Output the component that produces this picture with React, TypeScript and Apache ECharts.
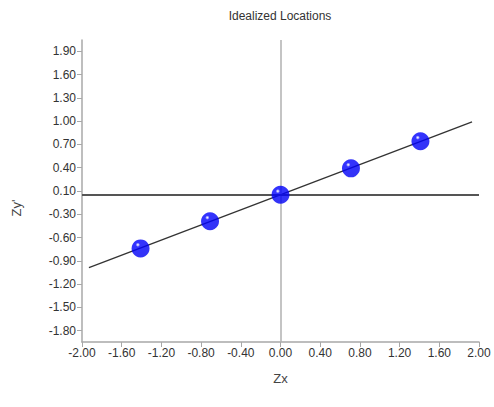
import React, { useEffect, useRef } from "react";
import * as echarts from "echarts";

const titleText = "Idealized Locations";
const xName = "Zx";
const yName = "Zy'";

const pointsX = [-1.41, -0.71, 0, 0.71, 1.41];
const pointsY = [-0.71, -0.35, 0, 0.35, 0.71];

const lineX = [-1.93, 1.93];
const lineY = [-0.965, 0.965];

const yTickValues = [-1.8, -1.4917, -1.1833, -0.875, -0.5667, -0.2583, 0.05, 0.3583, 0.6667, 0.975, 1.2833, 1.5917, 1.9];
const yTickLabels = ["-1.80", "-1.50", "-1.20", "-0.90", "-0.60", "-0.30", "0.10", "0.40", "0.70", "1.00", "1.30", "1.60", "1.90"];

const FONT = "Liberation Sans, Arial, sans-serif";

export default function App() {
  const ref = useRef<HTMLDivElement>(null);
  useEffect(() => {
    if (!ref.current) return;
    const chart = echarts.init(ref.current, undefined, { renderer: "svg" });
    const axisGrey = "#a8a8a8";
    chart.setOption({
      animation: false,
      backgroundColor: "#ffffff",
      textStyle: { fontFamily: FONT },
      grid: { left: 82, right: 15, top: 40, bottom: 65, containLabel: false },
      xAxis: {
        type: "value",
        min: -2,
        max: 2,
        interval: 0.4,
        name: xName,
        nameLocation: "middle",
        nameGap: 30,
        nameTextStyle: { fontSize: 13, color: "#444", fontFamily: FONT },
        axisLine: { show: true, onZero: false, lineStyle: { color: axisGrey, width: 1.5 } },
        axisTick: { show: true, length: 5, lineStyle: { color: axisGrey } },
        axisLabel: {
          fontSize: 12,
          color: "#333",
          margin: 5,
          fontFamily: FONT,
          formatter: (v: number) => v.toFixed(2),
        },
        splitLine: { show: false },
      },
      yAxis: {
        type: "value",
        min: -1.95,
        max: 2.05,
        axisLine: { show: true, onZero: false, lineStyle: { color: axisGrey, width: 1.5 } },
        axisTick: { show: true, length: 5, customValues: yTickValues, lineStyle: { color: axisGrey } },
        axisLabel: {
          fontSize: 12,
          color: "#333",
          margin: 6,
          fontFamily: FONT,
          customValues: yTickValues,
          formatter: (v: number) => {
            let best = 0;
            for (let i = 0; i < yTickValues.length; i++) {
              if (Math.abs(yTickValues[i] - v) < Math.abs(yTickValues[best] - v)) best = i;
            }
            return yTickLabels[best];
          },
        },
        splitLine: { show: false },
      },
      graphic: [
        {
          type: "text",
          x: 280,
          y: 16,
          style: { text: titleText, align: "center", verticalAlign: "middle", fontSize: 12, fill: "#333", fontFamily: FONT },
        },
        {
          type: "text",
          x: 16,
          y: 208,
          rotation: Math.PI / 2,
          style: { text: yName, align: "center", verticalAlign: "middle", fontSize: 13, fill: "#444", fontFamily: FONT },
        },
      ],
      series: [
        {
          type: "line",
          data: lineX.map((x, i) => [x, lineY[i]]),
          showSymbol: false,
          symbol: "none",
          lineStyle: { color: "#333", width: 1.3 },
          silent: true,
          z: 2,
          markLine: {
            silent: true,
            symbol: "none",
            label: { show: false },
            data: [
              { xAxis: 0, lineStyle: { color: "#b0b0b0", width: 1.5, type: "solid" } },
              { yAxis: 0, lineStyle: { color: "#555", width: 2, type: "solid" } },
            ],
          },
        },
        {
          type: "scatter",
          data: pointsX.map((x, i) => [x, pointsY[i]]),
          symbol: "circle",
          symbolSize: 18,
          z: 5,
          itemStyle: {
            color: {
              type: "radial",
              x: 0.35,
              y: 0.3,
              r: 0.8,
              colorStops: [
                { offset: 0, color: "#ffffff" },
                { offset: 0.05, color: "#c0c0ff" },
                { offset: 0.15, color: "#0000ff" },
                { offset: 1, color: "#0000f0" },
              ],
            },
          },
        },
      ],
    });
    return () => chart.dispose();
  }, []);
  return <div ref={ref} style={{ position: "fixed", left: 0, top: 0, width: 494, height: 407 }} />;
}
